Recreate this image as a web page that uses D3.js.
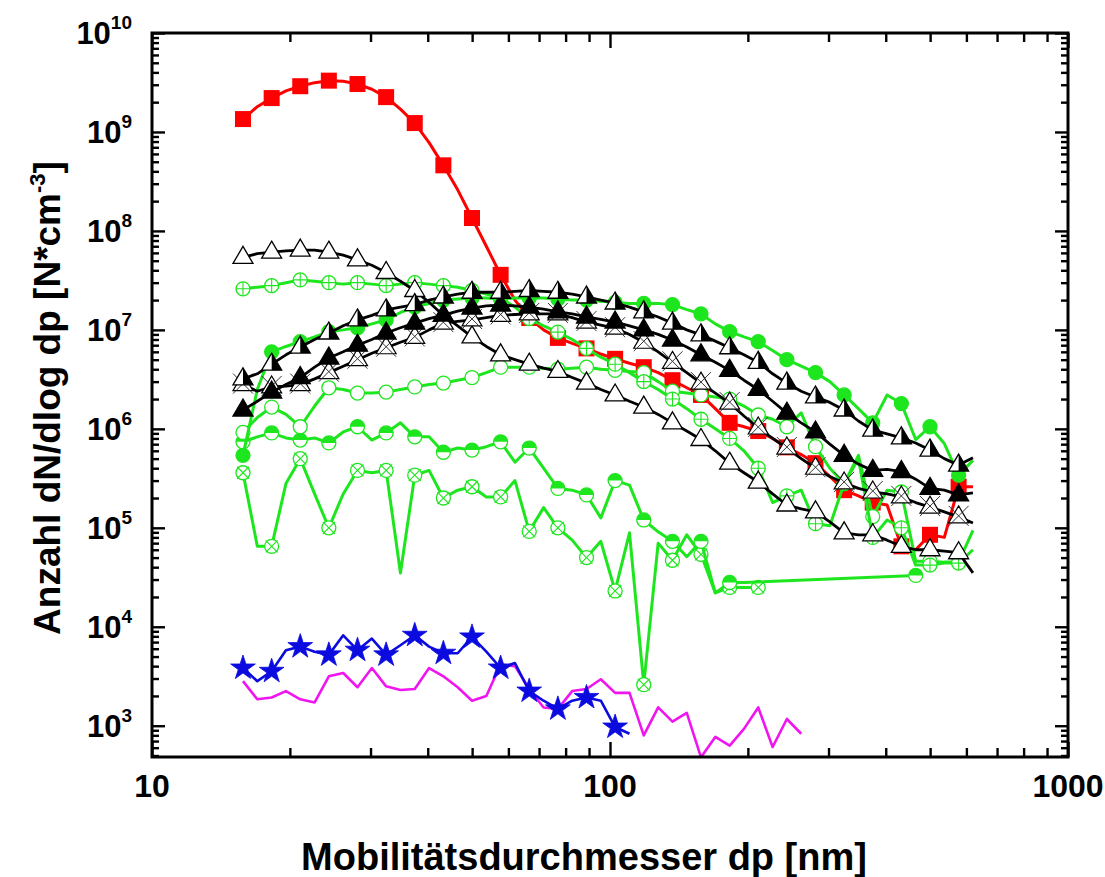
<!DOCTYPE html>
<html><head><meta charset="utf-8">
<script src="https://cdn.jsdelivr.net/npm/d3@7/dist/d3.min.js"></script>
<style>
body{margin:0;background:#fff}
svg{display:block}
text{font-family:"Liberation Sans",Arial,sans-serif;font-weight:bold;fill:#000}
</style>
</head><body>
<svg id="c" width="1105" height="877"></svg>
<script>
// ---------- data ----------
const dp = [15.80,16.98,18.25,19.61,21.07,22.65,24.33,26.15,28.10,30.20,32.45,34.87,37.47,40.27,43.27,46.50,49.97,53.70,57.70,62.01,66.63,71.61,76.95,82.69,88.86,95.49,102.6,110.3,118.5,127.4,136.9,147.1,158.0,169.8,182.5,196.1,210.7,226.5,243.3,261.5,281.0,302.0,324.5,348.7,374.7,402.7,432.7,465.0,499.7,537.0,577.0,620.1];

const redSquares = [1.35e9,1.8e9,2.2e9,2.6e9,2.9e9,3.15e9,3.3e9,3.25e9,3.05e9,2.7e9,2.25e9,1.7e9,1.23e9,7.8e8,4.6e8,2.6e8,1.35e8,7.0e7,3.6e7,2.0e7,1.32e7,1.0e7,8.3e6,7.3e6,6.5e6,5.7e6,5.1e6,4.6e6,4.2e6,3.7e6,3.1e6,2.6e6,2.2e6,1.6e6,1.15e6,1.05e6,9.5e5,8.0e5,6.5e5,5.5e5,4.5e5,3.3e5,2.4e5,2.1e5,1.8e5,1.7e5,6.5e4,6.0e4,8.5e4,8.0e4,2.6e5,2.6e5];
const openTri = [5.4e7,5.9e7,6.1e7,6.3e7,6.4e7,6.4e7,6.1e7,5.7e7,5.1e7,4.5e7,3.8e7,3.1e7,2.5e7,1.9e7,1.4e7,1.1e7,8.5e6,6.8e6,5.6e6,5.0e6,4.5e6,4.1e6,3.8e6,3.3e6,2.9e6,2.5e6,2.2e6,1.9e6,1.66e6,1.4e6,1.15e6,9.5e5,7.8e5,6.0e5,4.5e5,3.6e5,2.9e5,2.2e5,1.7e5,1.55e5,1.45e5,1.15e5,8.9e4,8.5e4,8.5e4,7.5e4,6.5e4,6.0e4,6.0e4,5.8e4,5.6e4,3.5e4];
const halfTri = [3.2e6,3.6e6,4.5e6,5.6e6,6.7e6,8.0e6,9.3e6,1.1e7,1.26e7,1.4e7,1.59e7,1.7e7,1.8e7,2.0e7,2.15e7,2.3e7,2.4e7,2.4e7,2.4e7,2.45e7,2.5e7,2.45e7,2.4e7,2.3e7,2.15e7,2.0e7,1.87e7,1.7e7,1.52e7,1.35e7,1.17e7,1.0e7,8.9e6,7.7e6,6.6e6,5.6e6,4.7e6,3.6e6,2.9e6,2.4e6,2.1e6,1.85e6,1.55e6,1.2e6,9.7e5,8.9e5,8.1e5,7.2e5,6.1e5,5.0e5,4.3e5,5.1e5];
const filledTri = [1.55e6,1.9e6,2.35e6,2.8e6,3.3e6,4.2e6,5.2e6,6.0e6,7.0e6,8.0e6,9.3e6,1.05e7,1.17e7,1.3e7,1.41e7,1.55e7,1.66e7,1.75e7,1.78e7,1.75e7,1.70e7,1.62e7,1.52e7,1.45e7,1.35e7,1.28e7,1.2e7,1.1e7,1.0e7,9.0e6,7.9e6,6.7e6,5.6e6,4.7e6,3.9e6,3.1e6,2.5e6,1.9e6,1.44e6,1.15e6,9.3e5,7.0e5,5.4e5,4.4e5,3.8e5,3.9e5,3.7e5,3.1e5,2.5e5,2.4e5,2.15e5,2.25e5];
const crossTri = [2.8e6,2.4e6,2.65e6,2.7e6,2.8e6,3.2e6,3.7e6,4.3e6,5.0e6,5.8e6,6.6e6,7.5e6,8.4e6,1.0e7,1.17e7,1.22e7,1.26e7,1.33e7,1.4e7,1.43e7,1.45e7,1.45e7,1.45e7,1.33e7,1.2e7,1.12e7,1.04e7,9.0e6,7.5e6,6.0e6,4.7e6,3.7e6,2.9e6,2.3e6,1.82e6,1.35e6,1.02e6,8.0e5,6.4e5,5.0e5,4.0e5,3.3e5,2.84e5,2.5e5,2.3e5,2.2e5,2.05e5,1.8e5,1.62e5,1.45e5,1.29e5,1.12e5];
const greenFilled = [5.4e5,2.5e6,6.0e6,6.8e6,7.6e6,8.5e6,9.6e6,1.0e7,1.05e7,1.15e7,1.26e7,1.5e7,1.7e7,1.85e7,2.0e7,2.05e7,2.1e7,2.1e7,2.05e7,2.1e7,2.1e7,2.1e7,2.05e7,2.0e7,2.0e7,1.95e7,1.9e7,1.85e7,1.85e7,1.85e7,1.8e7,1.6e7,1.45e7,1.15e7,9.6e6,8.5e6,7.6e6,6.2e6,5.0e6,4.3e6,3.7e6,3.0e6,2.2e6,1.6e6,1.15e6,2.2e6,1.8e6,7.8e5,1.05e6,7.1e5,3.4e5,4.8e5];
const greenPlus = [2.6e7,2.7e7,2.8e7,3.0e7,3.2e7,3.1e7,3.0e7,2.9e7,3.0e7,2.9e7,2.8e7,2.9e7,3.0e7,2.9e7,2.8e7,2.7e7,2.5e7,2.3e7,2.1e7,1.7e7,1.3e7,1.1e7,9.5e6,8.0e6,6.5e6,5.3e6,4.5e6,3.7e6,3.0e6,2.5e6,2.0e6,1.6e6,1.25e6,1.0e6,8.0e5,6.0e5,4.0e5,1.8e5,2.1e5,2.4e5,1.1e5,1.05e5,2.8e5,5.0e5,8.0e4,1.2e5,1.0e5,4.2e4,4.2e4,4.4e4,4.4e4,6.0e4];
const greenOpen = [9.2e5,1.3e6,1.66e6,1.4e6,1.05e6,1.7e6,2.6e6,2.5e6,2.3e6,2.3e6,2.35e6,2.5e6,2.65e6,2.8e6,2.9e6,3.1e6,3.3e6,3.7e6,4.2e6,4.2e6,4.2e6,4.1e6,4.0e6,4.1e6,4.2e6,4.0e6,3.9e6,3.8e6,3.7e6,3.0e6,2.4e6,2.3e6,2.2e6,2.1e6,2.0e6,1.7e6,1.38e6,1.25e6,1.05e6,1.45e6,6.6e5,4.0e5,2.8e5,5.4e5,1.3e5,2.4e5,2.3e5,4.6e4,4.6e4,4.5e4,4.5e4,9.4e4];
const greenHalf = [7.4e5,8.3e5,9.1e5,8.1e5,7.7e5,8.1e5,7.2e5,9.3e5,1.05e6,7.7e5,9.1e5,1.15e6,8.3e5,8.3e5,5.8e5,6.4e5,6.1e5,6.6e5,7.4e5,4.6e5,6.4e5,4.0e5,2.5e5,2.4e5,2.15e5,1.26e5,3.0e5,2.7e5,1.2e5,9.1e4,7.3e4,5.1e4,7.3e4,2.2e4,2.8e4,2.8e4,null,null,null,null,null,null,null,null,null,null,null,3.3e4];
const greenCross = [3.6e5,6.5e4,6.5e4,2.8e5,5.0e5,2.2e5,1.0e5,2.2e5,3.8e5,3.6e5,3.8e5,3.5e4,3.4e5,3.8e5,2.0e5,2.4e5,2.6e5,2.05e5,2.05e5,3.0e5,9.2e4,1.6e5,1.0e5,7.5e4,5.0e4,7.3e4,2.3e4,8.9e4,2.6e3,7.0e4,4.7e4,8.5e4,5.4e4,2.2e4,2.5e4,2.5e4,2.5e4];
const blueStars = [3.83e3,2.82e3,3.55e3,5.8e3,6.3e3,5.6e3,5.2e3,8.2e3,5.8e3,7.6e3,5.2e3,6.5e3,8.2e3,6.3e3,5.4e3,5.4e3,7.9e3,5.6e3,3.83e3,4.3e3,2.24e3,1.79e3,1.48e3,1.79e3,1.93e3,1.79e3,970,830];
const magentaLine = [2.82e3,1.85e3,1.93e3,2.24e3,1.85e3,1.72e3,3.16e3,3.41e3,2.45e3,3.83e3,2.5e3,2.3e3,2.35e3,3.83e3,3.16e3,2.45e3,1.79e3,2.0e3,4.15e3,4.0e3,2.35e3,1.53e3,1.48e3,2.24e3,2.35e3,2.95e3,2.15e3,2.15e3,800,1.53e3,1.1e3,1.35e3,480,770,630,930,1.53e3,610,1.17e3,830];

const xTickLabels = ["10","100","1000"];
const xTickValues = [10,100,1000];
const yDecades = [3,4,5,6,7,8,9,10];
const xTitle = "Mobilitätsdurchmesser dp [nm]";
const yTitleMain = "Anzahl dN/dlog dp [N*cm";
const yTitleSup = "-3";

// ---------- layout ----------
const L=152, R=1068, T=33, B=757;
const GREEN="#1ee61e", RED="#ff0000", BLUE="#0b0be0", MAG="#f014f0";
const svg=d3.select("#c");
const x=d3.scaleLog().domain([10,1000]).range([L,R]);
const y=d3.scaleLog().domain([Math.pow(10,2.684),1e10]).range([B,T]);

svg.append("defs").append("clipPath").attr("id","clip")
  .append("rect").attr("x",L).attr("y",T).attr("width",R-L).attr("height",B-T);

// ---------- axes ----------
const yMajor = yDecades.map(k=>Math.pow(10,k));
const yMinor=[];
for(let k=2;k<10;k++) for(let m=2;m<10;m++){const v=m*Math.pow(10,k); if(v>=y.domain()[0]&&v<=1e10) yMinor.push(v);}
const xMinor=[];
for(let k=1;k<3;k++) for(let m=2;m<10;m++) xMinor.push(m*Math.pow(10,k));

function styleAxis(g){g.select(".domain").remove();g.selectAll(".tick line").attr("stroke","#000").attr("stroke-width",2.4);g.selectAll(".tick text").remove();}
svg.append("g").attr("transform",`translate(${L},0)`).call(d3.axisLeft(y).tickValues(yMajor).tickSize(-13).tickFormat("")).call(styleAxis);
svg.append("g").attr("transform",`translate(${L},0)`).call(d3.axisLeft(y).tickValues(yMinor).tickSize(-7).tickFormat("")).call(styleAxis);
svg.append("g").attr("transform",`translate(${R},0)`).call(d3.axisRight(y).tickValues(yMajor).tickSize(-13).tickFormat("")).call(styleAxis);
svg.append("g").attr("transform",`translate(${R},0)`).call(d3.axisRight(y).tickValues(yMinor).tickSize(-7).tickFormat("")).call(styleAxis);
svg.append("g").attr("transform",`translate(0,${B})`).call(d3.axisBottom(x).tickValues(xTickValues).tickSize(-15).tickFormat("")).call(styleAxis);
svg.append("g").attr("transform",`translate(0,${B})`).call(d3.axisBottom(x).tickValues(xMinor).tickSize(-9).tickFormat("")).call(styleAxis);
svg.append("g").attr("transform",`translate(0,${T})`).call(d3.axisTop(x).tickValues(xTickValues).tickSize(-15).tickFormat("")).call(styleAxis);
svg.append("g").attr("transform",`translate(0,${T})`).call(d3.axisTop(x).tickValues(xMinor).tickSize(-9).tickFormat("")).call(styleAxis);

// tick labels
xTickValues.forEach((v,i)=>{
  svg.append("text").attr("x",x(v)).attr("y",B+40).attr("text-anchor","middle")
    .attr("font-size",32).text(xTickLabels[i]);
});
yDecades.forEach(k=>{
  const t=svg.append("text").attr("x",132).attr("y",y(Math.pow(10,k))+11).attr("text-anchor","end").attr("font-size",31);
  t.append("tspan").text("10");
  t.append("tspan").attr("dy",-15).attr("font-size",19).text(String(k));
});

// titles
svg.append("text").attr("x",584).attr("y",870).attr("text-anchor","middle").attr("font-size",38).text(xTitle);
const yt=svg.append("text").attr("transform","translate(60,398) rotate(-90)").attr("text-anchor","middle").attr("font-size",37);
yt.append("tspan").text(yTitleMain);
yt.append("tspan").attr("dy",-15).attr("font-size",22).text(yTitleSup);
yt.append("tspan").attr("dy",15).text("]");

// ---------- series ----------
function pts(vals){return vals.map((v,i)=>({d:dp[i],v,i})).filter(p=>p.v!=null);}
const line=d3.line().x(p=>x(p.d)).y(p=>y(p.v));

const triPath="M0,-11 L10,6 L-10,6 Z";
const triHalf="M0,-11 L10,6 L0,6 Z";
const cr=7;
function marker(g,type,color){
  switch(type){
    case "square": g.append("rect").attr("x",-8).attr("y",-8).attr("width",16).attr("height",16).attr("fill",color); break;
    case "triOpen": g.append("path").attr("d",triPath).attr("fill","#fff").attr("stroke","#000").attr("stroke-width",1.3); break;
    case "triFill": g.append("path").attr("d",triPath).attr("fill","#000").attr("stroke","#000").attr("stroke-width",1.3); break;
    case "triHalf": g.append("path").attr("d",triPath).attr("fill","#fff").attr("stroke","#000").attr("stroke-width",1.3);
                    g.append("path").attr("d",triHalf).attr("fill","#000"); break;
    case "triCross": g.append("path").attr("d",triPath).attr("fill","#fff").attr("stroke","#000").attr("stroke-width",1.2);
                    g.append("path").attr("d","M-10,-11 L10,9 M10,-11 L-10,9").attr("stroke","#333").attr("stroke-width",1); break;
    case "cFill": g.append("circle").attr("r",cr).attr("fill",color).attr("stroke",color).attr("stroke-width",1.3); break;
    case "cOpen": g.append("circle").attr("r",cr).attr("fill","#fff").attr("stroke",color).attr("stroke-width",1.3); break;
    case "cPlus": g.append("circle").attr("r",cr).attr("fill","#fff").attr("stroke",color).attr("stroke-width",1.3);
                  g.append("path").attr("d",`M${-cr},0 L${cr},0 M0,${-cr} L0,${cr}`).attr("stroke",color).attr("stroke-width",1.1); break;
    case "cCross": g.append("circle").attr("r",cr).attr("fill","#fff").attr("stroke",color).attr("stroke-width",1.3);
                  g.append("path").attr("d","M-6,-6 L6,6 M6,-6 L-6,6").attr("stroke",color).attr("stroke-width",1.1); break;
    case "cHalf": g.append("circle").attr("r",cr).attr("fill","#fff").attr("stroke",color).attr("stroke-width",1.3);
                  g.append("path").attr("d",`M${-cr},0 A${cr},${cr} 0 0 1 ${cr},0 Z`).attr("fill",color); break;
    case "star": g.append("path").attr("d",d3.symbol(d3.symbolStar,190)()).attr("fill",color).attr("stroke",color).attr("stroke-width",0.8); break;
  }
}

const series=[
  {vals:redSquares, color:RED, w:3, m:"square"},
  {vals:greenCross, color:GREEN, w:3, m:"cCross"},
  {vals:greenHalf, color:GREEN, w:3, m:"cHalf", markLast:true},
  {vals:greenOpen, color:GREEN, w:3, m:"cOpen"},
  {vals:greenPlus, color:GREEN, w:3, m:"cPlus"},
  {vals:greenFilled, color:GREEN, w:3, m:"cFill"},
  {vals:openTri, color:"#000", w:2.8, m:"triOpen"},
  {vals:crossTri, color:"#000", w:2.8, m:"triCross"},
  {vals:filledTri, color:"#000", w:2.8, m:"triFill"},
  {vals:halfTri, color:"#000", w:2.8, m:"triHalf"},
  {vals:magentaLine, color:MAG, w:2.6, m:null},
  {vals:blueStars, color:BLUE, w:2.6, m:"star"}
];

series.forEach(s=>{
  const p=pts(s.vals);
  const g=svg.append("g");
  g.append("path").attr("clip-path","url(#clip)").attr("d",line(p)).attr("fill","none")
    .attr("stroke",s.color).attr("stroke-width",s.w).attr("stroke-linejoin","round");
  if(s.m){
    const mk=p.filter((q,j)=>q.i%2===0 || (s.markLast && j===p.length-1));
    mk.forEach(q=>{
      const mg=g.append("g").attr("transform",`translate(${x(q.d)},${y(q.v)})`);
      marker(mg,s.m,s.color);
    });
  }
});

// frame
svg.append("rect").attr("x",L).attr("y",T).attr("width",R-L).attr("height",B-T)
  .attr("fill","none").attr("stroke","#000").attr("stroke-width",3);
</script>
</body></html>
